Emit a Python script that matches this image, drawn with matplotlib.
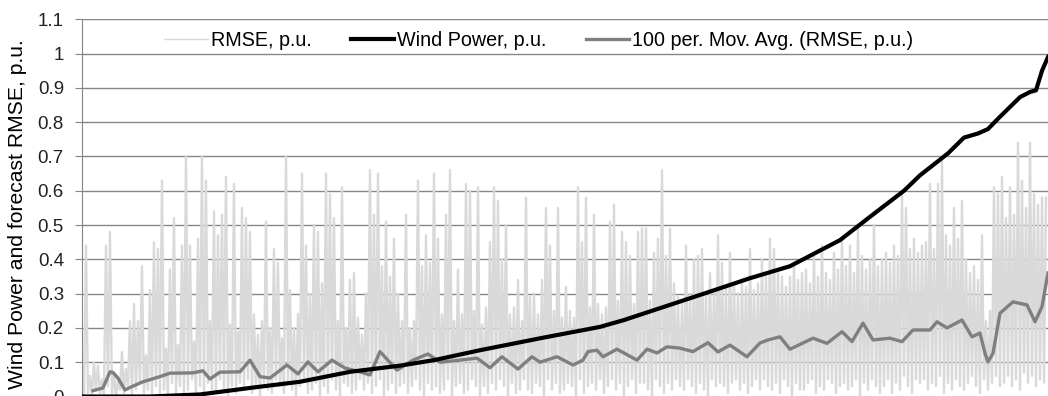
import numpy as np
import matplotlib
matplotlib.use("Agg")
import matplotlib.pyplot as plt

# ---- data (x = sample rank, hours sorted by wind power) ----
# RMSE peaks / troughs in hundredths of p.u., alternating trough, peak along the rank axis
rmse_hi = [
    44, 6, 10, 9, 5, 44, 48, 7, 5, 13,
    8, 22, 27, 22, 38, 12, 31, 45, 43, 63,
    14, 37, 52, 15, 44, 70, 44, 16, 46, 70,
    63, 22, 54, 47, 53, 64, 21, 62, 19, 55,
    52, 48, 24, 18, 22, 51, 20, 43, 39, 17,
    70, 31, 20, 24, 65, 44, 30, 50, 48, 33,
    65, 59, 52, 22, 61, 20, 34, 36, 23, 18,
    30, 66, 53, 65, 38, 51, 35, 46, 30, 22,
    53, 20, 22, 63, 38, 47, 39, 65, 46, 24,
    53, 66, 22, 37, 24, 62, 60, 25, 61, 21,
    26, 45, 61, 57, 40, 50, 24, 26, 34, 22,
    58, 29, 30, 24, 34, 55, 44, 25, 55, 23,
    32, 25, 23, 61, 45, 58, 26, 53, 27, 24,
    26, 51, 56, 28, 48, 45, 41, 27, 48, 49,
    49, 28, 42, 46, 66, 41, 49, 33, 29, 27,
    44, 30, 40, 41, 43, 30, 36, 31, 47, 39,
    32, 42, 33, 30, 34, 32, 43, 31, 33, 40,
    35, 46, 43, 36, 35, 32, 35, 39, 34, 36,
    37, 33, 41, 35, 44, 36, 34, 42, 37, 46,
    38, 44, 36, 49, 41, 37, 40, 50, 38, 40,
    42, 39, 44, 41, 59, 55, 43, 46, 42, 44,
    45, 62, 43, 62, 69, 47, 44, 55, 46, 57,
    40, 36, 38, 34, 47, 22, 25, 61, 59, 64,
    52, 61, 53, 74, 63, 55, 74, 59, 56, 58,
    58,
]
rmse_lo = [
    0, 1, 0, 2, 1, 0, 3, 1, 0, 2,
    1, 3, 0, 2, 4, 1, 2, 0, 3, 1,
    2, 0, 4, 1, 3, 0, 2, 5, 1, 3,
    0, 4, 2, 1, 5, 2, 0, 3, 1, 4,
    2, 5, 1, 3, 0, 4, 2, 1, 5, 3,
    1, 4, 2, 0, 3, 5, 1, 2, 4, 0,
    3, 1, 5, 2, 0, 4, 3, 1, 2, 5,
    2, 4, 1, 3, 5, 0, 2, 4, 1, 3,
    4, 1, 3, 5, 2, 0, 4, 2, 3, 1,
    2, 5, 0, 3, 4, 1, 2, 5, 3, 0,
    3, 1, 4, 2, 5, 3, 0, 4, 1, 2,
    5, 2, 1, 4, 3, 0, 5, 2, 4, 1,
    2, 4, 3, 0, 5, 1, 3, 4, 2, 5,
    1, 3, 5, 2, 4, 0, 3, 5, 1, 4,
    4, 2, 0, 5, 3, 1, 4, 2, 5, 3,
    2, 5, 3, 1, 4, 2, 0, 5, 3, 4,
    3, 1, 4, 5, 2, 4, 1, 3, 5, 2,
    5, 3, 2, 4, 1, 5, 3, 0, 4, 2,
    2, 4, 5, 1, 3, 2, 5, 4, 1, 3,
    4, 2, 3, 5, 0, 4, 2, 5, 3, 1,
    3, 5, 1, 4, 2, 6, 3, 1, 5, 4,
    5, 2, 4, 3, 6, 1, 4, 2, 5, 3,
    2, 4, 6, 3, 1, 5, 2, 4, 6, 3,
    4, 6, 3, 5, 2, 7, 4, 6, 3, 5,
    4,
]

wind_rank = [0, 33, 58, 83, 108, 133, 158, 175, 198, 230, 258, 270, 310, 333,
             353, 378, 393, 410, 418, 432, 440, 447, 452, 457, 468, 473, 476,
             479, 482]
wind_power = [0.0, 0.0, 0.006, 0.025, 0.043, 0.072, 0.09, 0.106, 0.135, 0.172,
              0.203, 0.223, 0.30, 0.345, 0.38, 0.456, 0.524, 0.60, 0.645, 0.709,
              0.755, 0.767, 0.78, 0.81, 0.873, 0.888, 0.893, 0.95, 0.99]

ma_rank = [4.5, 9.5, 13, 14.5, 17, 20.5, 24, 29.5, 38, 43, 54.5, 59.5, 63, 68,
           78, 83, 88, 93, 101.5, 107, 112, 117, 124, 130.5, 138, 143, 148,
           156.5, 164.5, 172, 178, 188, 196.5, 203, 209, 217, 224, 228, 236.5,
           244.5, 249.5, 252, 256.5, 259.5, 266.5, 276.5, 281.5, 286.5, 291.5,
           298, 304.5, 312, 317, 323, 331.5, 338, 342, 348, 353, 364.5, 371.5,
           379, 384, 389.5, 394.5, 403, 409, 414.5, 423, 426.5, 431.5, 439,
           444, 448, 450.5, 452, 454.5, 458, 464.5, 471.5, 475.5, 479, 482]
ma_rmse = [0.017, 0.025, 0.072, 0.07, 0.054, 0.019, 0.029, 0.043, 0.058, 0.068,
           0.069, 0.075, 0.051, 0.071, 0.072, 0.106, 0.058, 0.054, 0.092, 0.066,
           0.101, 0.072, 0.106, 0.083, 0.072, 0.063, 0.131, 0.077, 0.106, 0.124,
           0.10, 0.106, 0.112, 0.084, 0.116, 0.08, 0.116, 0.10, 0.116, 0.092,
           0.106, 0.131, 0.135, 0.116, 0.138, 0.106, 0.138, 0.127, 0.145, 0.141,
           0.131, 0.157, 0.13, 0.15, 0.116, 0.156, 0.165, 0.174, 0.138, 0.17,
           0.155, 0.189, 0.16, 0.214, 0.165, 0.17, 0.16, 0.194, 0.194, 0.218,
           0.20, 0.223, 0.174, 0.185, 0.126, 0.101, 0.126, 0.243, 0.276, 0.267,
           0.218, 0.262, 0.36]

yticks = [0, 0.1, 0.2, 0.3, 0.4, 0.5, 0.6, 0.7, 0.8, 0.9, 1.0, 1.1]
ytick_labels = ["0", "0.1", "0.2", "0.3", "0.4", "0.5", "0.6", "0.7", "0.8",
                "0.9", "1", "1.1"]

plt.rcParams["font.family"] = ["Liberation Sans", "DejaVu Sans"]

rmse = np.column_stack([rmse_lo, rmse_hi]).ravel() / 100.0
rank = np.arange(len(rmse))

fig = plt.figure(figsize=(10.48, 3.96), dpi=100)
ax = fig.add_axes([0.0782, -0.0013, 0.9218, 0.9526])

ax.plot(rank, rmse, color="#d9d9d9", lw=1.7, label="RMSE, p.u.", zorder=2)
ax.plot(wind_rank, wind_power, color="black", lw=3.0, label="Wind Power, p.u.",
        zorder=4)
ax.plot(ma_rank, ma_rmse, color="#7f7f7f", lw=2.4,
        label="100 per. Mov. Avg. (RMSE, p.u.)", zorder=3)

ax.set_xlim(-1, 482)
ax.set_ylim(0, 1.1)
ax.set_yticks(yticks)
ax.set_yticklabels(ytick_labels)
ax.set_xticks([])
ax.grid(axis="y", color="#868686", lw=1.0, zorder=1)
ax.set_axisbelow(True)
for s in ["top", "right", "bottom"]:
    ax.spines[s].set_visible(False)
ax.spines["left"].set_color("#868686")
ax.tick_params(axis="y", length=5, color="#868686", labelsize=13.5, pad=8,
               labelcolor="#222222")

ax.set_ylabel("Wind Power and forecast RMSE, p.u.", fontsize=15.2, color="black")
ax.yaxis.set_label_coords(-0.057, 0.4825)

leg = ax.legend(loc="center", bbox_to_anchor=(0.473, 0.945), ncol=3, frameon=False,
                fontsize=14.2, handlelength=2.2, handletextpad=0.15,
                columnspacing=2.0)
leg.get_lines()[0].set_linewidth(1.0)

fig.savefig("out.png", dpi=100)
